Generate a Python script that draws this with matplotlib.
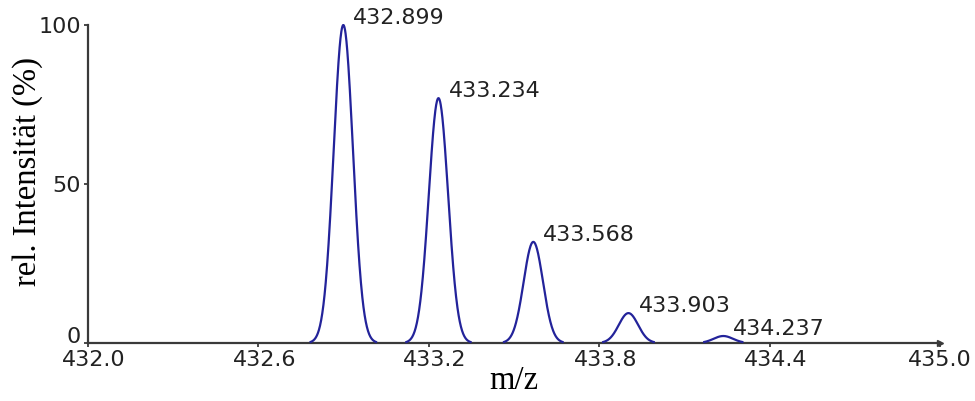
import numpy as np
import matplotlib.pyplot as plt
import matplotlib.transforms as mtransforms

# isotope pattern: centroid m/z and relative intensity (%)
peak_mz = [432.899, 433.234, 433.568, 433.903, 434.237]
peak_int = [100.0, 77.0, 31.8, 9.4, 2.2]
peak_labels = ["432.899", "433.234", "433.568", "433.903", "434.237"]

x_ticks = [432.0, 432.6, 433.2, 433.8, 434.4, 435.0]
y_ticks = [0, 50, 100]

peak_sigma = 0.034  # profile width in m/z

line_col = "#23239a"
axis_col = "#3a3a3a"

mz = np.linspace(432.0, 435.0, 3001)
profile = np.zeros_like(mz)
for c, h in zip(peak_mz, peak_int):
    profile += h * np.exp(-0.5 * ((mz - c) / peak_sigma) ** 2)
profile[profile < 0.3] = np.nan  # only draw the peaks, not the flat baseline

fig = plt.figure(figsize=(9.75, 4.01), dpi=100)
ax = fig.add_axes([88 / 975, 58 / 401, 852 / 975, 318 / 401])

ax.plot(mz, profile, color=line_col, lw=1.6, zorder=5, clip_on=False)

for c, h, lab in zip(peak_mz, peak_int, peak_labels):
    ax.annotate(lab, xy=(c, h), xytext=(10, 1), textcoords="offset pixels",
                ha="left", va="baseline", fontsize=16, color="#222222",
                family="DejaVu Sans", annotation_clip=False)

ax.set_xlim(432.0, 435.0)
ax.set_ylim(0, 100)
ax.set_xticks(x_ticks)
ax.set_xticklabels([f"{v:.1f}" for v in x_ticks])
ax.set_yticks(y_ticks)

for s in ["top", "right"]:
    ax.spines[s].set_visible(False)
for s in ["left", "bottom"]:
    ax.spines[s].set_color(axis_col)
    ax.spines[s].set_linewidth(1.6)
    ax.spines[s].set_zorder(3)

ax.tick_params(direction="out", length=3, width=1.3, color=axis_col,
               labelsize=16, labelcolor="#222222", pad=2)
# nudge the m/z labels a little to the right of their ticks (not the last one)
shift = mtransforms.ScaledTranslation(6 / 100, 0, fig.dpi_scale_trans)
for t in ax.get_xticklabels()[:-1]:
    t.set_transform(t.get_transform() + shift)
# lift the "0" so it sits above the m/z labels
lift = mtransforms.ScaledTranslation(0, 8 / 100, fig.dpi_scale_trans)
y0 = ax.get_yticklabels()[0]
y0.set_transform(y0.get_transform() + lift)

# arrow head at the end of the m/z axis
ax.plot(1, 0, marker=">", ms=5, color=axis_col, transform=ax.transAxes,
        clip_on=False, zorder=4)

ax.set_xlabel("m/z", family="Liberation Serif", fontsize=23.5, labelpad=-3)
ax.set_ylabel("rel. Intensität (%)", family="Liberation Serif", fontsize=23.5)
ax.yaxis.set_label_coords(-0.053, 0.538)

fig.savefig("out.png", dpi=100)
